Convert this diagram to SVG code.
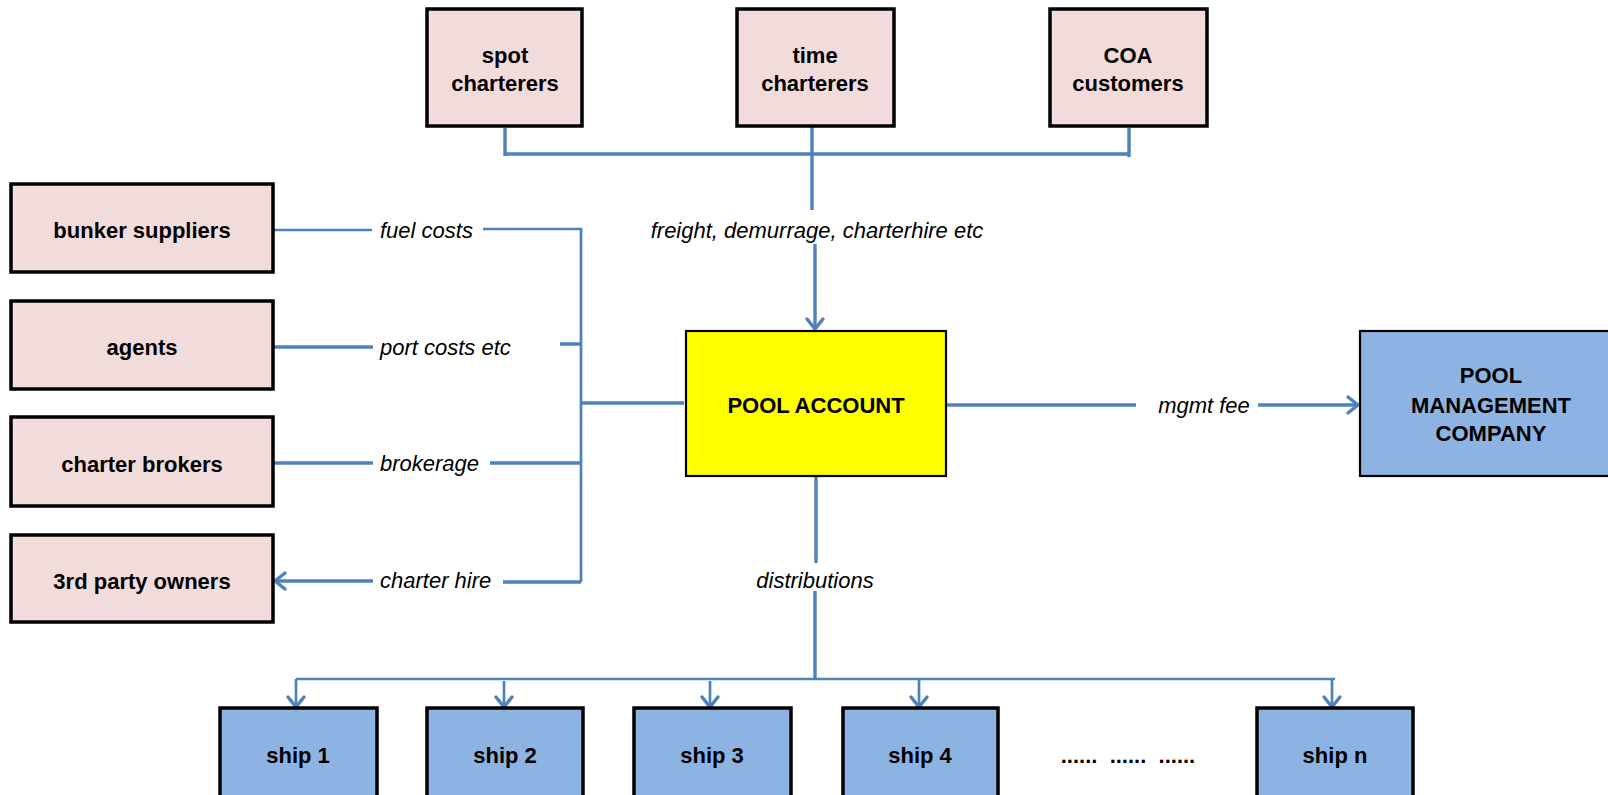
<svg xmlns="http://www.w3.org/2000/svg" width="1608" height="795" viewBox="0 0 1608 795">
<style>
.box{stroke:#000;stroke-width:3.5}
.pink{fill:#f2dcdb}
.blue{fill:#8db3e2}
.yellow{fill:#ffff00}
.thin{stroke-width:2.2}
.t{font-family:"Liberation Sans",Arial,sans-serif;font-size:22px;font-weight:bold;fill:#000;text-anchor:middle}
.lbl{font-family:"Liberation Sans",Arial,sans-serif;font-size:22px;font-style:italic;fill:#000}
.c{fill:none;stroke:#4f81bd;stroke-width:3.4}
.c2{fill:none;stroke:#4f81bd;stroke-width:2.7}
</style>
<defs>
<marker id="arr" markerUnits="userSpaceOnUse" markerWidth="24" markerHeight="24" viewBox="-12 -12 24 24" refX="0" refY="0" orient="auto" overflow="visible">
<path d="M-10,-8 L0,0 L-10,8" fill="none" stroke="#4f81bd" stroke-width="3.5" stroke-linecap="round" stroke-linejoin="round"/>
</marker>
</defs>

<g id="connectors">
<path class="c" d="M505,128 V156 M1129,128 V157 M505,154 H1129 M812,126 V210"/>
<path class="c" d="M815,244 V329" marker-end="url(#arr)"/>
<path class="c2" d="M273,230 H372 M483,229 H581 V582"/>
<path class="c" d="M273,347 H373 M560,344 H581"/>
<path class="c" d="M581,403 H684"/>
<path class="c" d="M273,463 H373 M490,463 H581"/>
<path class="c" d="M373,581 H275" marker-end="url(#arr)"/>
<path class="c" d="M503,582 H581"/>
<path class="c" d="M946,405 H1136"/>
<path class="c" d="M1258,405 H1358" marker-end="url(#arr)"/>
<path class="c" d="M816,476 V563 M815,591 V679"/>
<path class="c2" d="M296,679 H1335"/>
<path class="c2" d="M296,679 V707" marker-end="url(#arr)"/>
<path class="c2" d="M504,681 V707" marker-end="url(#arr)"/>
<path class="c2" d="M710,681 V707" marker-end="url(#arr)"/>
<path class="c2" d="M919,679 V707" marker-end="url(#arr)"/>
<path class="c2" d="M1332,679 V707" marker-end="url(#arr)"/>
<text class="lbl" x="380" y="238">fuel costs</text>
<text class="lbl" x="380" y="355">port costs etc</text>
<text class="lbl" x="380" y="471">brokerage</text>
<text class="lbl" x="380" y="588">charter hire</text>
<text class="lbl" x="817" y="238" text-anchor="middle">freight, demurrage, charterhire etc</text>
<text class="lbl" x="1204" y="413" text-anchor="middle">mgmt fee</text>
<text class="lbl" x="815" y="588" text-anchor="middle">distributions</text>
</g>

<g id="spot-charterers">
<rect class="box pink" x="427" y="9" width="155" height="117"/>
<text class="t" x="505" y="63">spot</text>
<text class="t" x="505" y="91">charterers</text>
</g>
<g id="time-charterers">
<rect class="box pink" x="737" y="9" width="157" height="117"/>
<text class="t" x="815" y="63">time</text>
<text class="t" x="815" y="91">charterers</text>
</g>
<g id="coa-customers">
<rect class="box pink" x="1050" y="9" width="157" height="117"/>
<text class="t" x="1128" y="63">COA</text>
<text class="t" x="1128" y="91">customers</text>
</g>

<g id="bunker-suppliers">
<rect class="box pink" x="11" y="184" width="262" height="88"/>
<text class="t" x="142" y="238">bunker suppliers</text>
</g>
<g id="agents">
<rect class="box pink" x="11" y="301" width="262" height="88"/>
<text class="t" x="142" y="355">agents</text>
</g>
<g id="charter-brokers">
<rect class="box pink" x="11" y="417" width="262" height="89"/>
<text class="t" x="142" y="472">charter brokers</text>
</g>
<g id="third-party-owners">
<rect class="box pink" x="11" y="535" width="262" height="87"/>
<text class="t" x="142" y="589">3rd party owners</text>
</g>

<g id="pool-account">
<rect class="box yellow thin" x="686" y="331" width="260" height="145"/>
<text class="t" x="816" y="413">POOL ACCOUNT</text>
</g>

<g id="pool-management-company">
<rect class="box blue thin" x="1360" y="331" width="262" height="145"/>
<text class="t" x="1491" y="383">POOL</text>
<text class="t" x="1491" y="413">MANAGEMENT</text>
<text class="t" x="1491" y="441">COMPANY</text>
</g>

<g id="ship-1">
<rect class="box blue" x="220" y="708" width="157" height="100"/>
<text class="t" x="298" y="763">ship 1</text>
</g>
<g id="ship-2">
<rect class="box blue" x="427" y="708" width="156" height="100"/>
<text class="t" x="505" y="763">ship 2</text>
</g>
<g id="ship-3">
<rect class="box blue" x="634" y="708" width="157" height="100"/>
<text class="t" x="712" y="763">ship 3</text>
</g>
<g id="ship-4">
<rect class="box blue" x="843" y="708" width="155" height="100"/>
<text class="t" x="920" y="763">ship 4</text>
</g>
<g id="ellipsis">
<text class="t" x="1128" y="763" xml:space="preserve" style="white-space:pre">......  ......  ......</text>
</g>
<g id="ship-n">
<rect class="box blue" x="1257" y="708" width="156" height="100"/>
<text class="t" x="1335" y="763">ship n</text>
</g>
</svg>
